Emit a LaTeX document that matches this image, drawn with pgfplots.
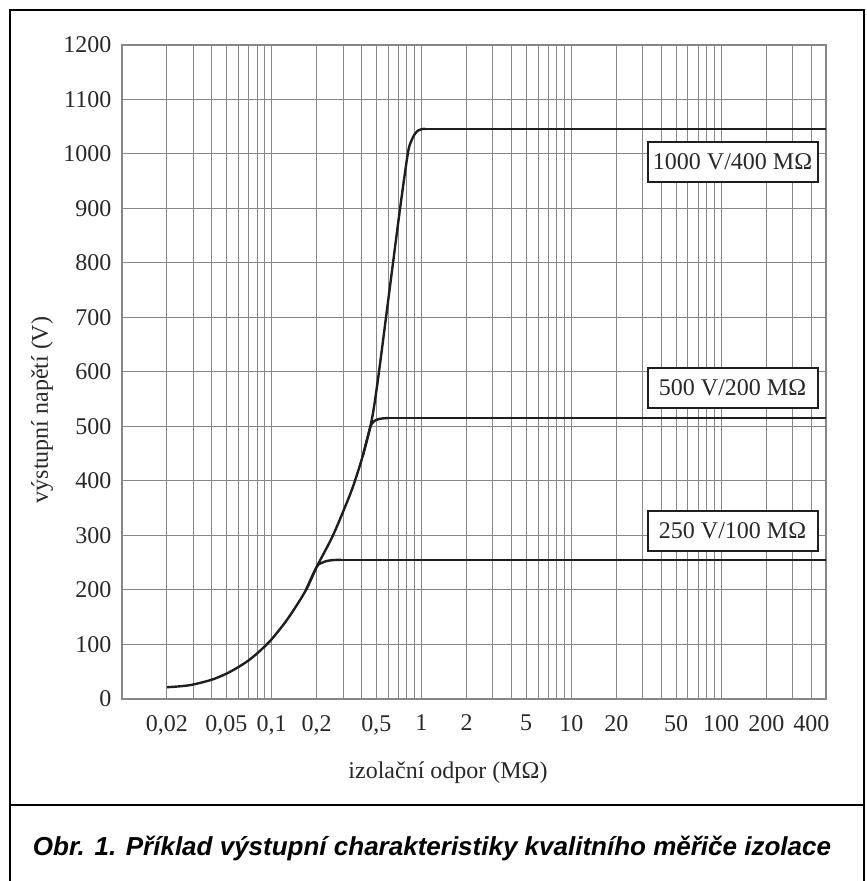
\documentclass[border=0pt]{standalone}
\usepackage{fontspec}
\setmainfont{Liberation Serif}
\newfontfamily\capfont{Liberation Sans}
\usepackage{pgfplots}
\pgfplotsset{compat=1.18}
\definecolor{gridgray}{RGB}{135,135,135}
\definecolor{curve}{RGB}{30,30,30}
\definecolor{txt}{RGB}{40,40,40}
\begin{document}
\fontsize{12}{14}\selectfont
\begin{tikzpicture}
\useasboundingbox (-60.85pt,-91.15pt) rectangle (372.15pt,349.35pt);
\begin{axis}[
  scale only axis, width=352.15pt, height=326.85pt,
  at={(0,0)}, anchor=south west,
  xmode=log, xmin=0.01, xmax=500, ymin=0, ymax=1200,
  xtick={0.02,0.05,0.1,0.2,0.5,1,2,5,10,20,50,100,200,400},
  xticklabels={{0,02},{0,05},{0,1},{0,2},{0,5},1,2,5,10,20,50,100,200,400},
  minor xtick={0.02,0.03,0.04,0.05,0.06,0.07,0.08,0.09,0.1,0.2,0.3,0.4,0.5,0.6,0.7,0.8,0.9,1,2,3,4,5,6,7,8,9,10,20,30,40,50,60,70,80,90,100,200,300,400},
  ytick={0,100,...,1200},
  grid=both,
  major grid style={gridgray, line width=0.5pt},
  minor grid style={gridgray, line width=0.5pt},
  axis line style={gridgray, line width=0.9pt},
  major tick length=0pt, minor tick length=0pt,
  /pgf/number format/assume math mode=true,
  /pgf/number format/1000 sep={},
  ticklabel style={text=txt},
  xticklabel style={yshift=-4pt},
  yticklabel style={xshift=-1pt},
]
% rising characteristic and 1000 V knee
\addplot[curve, line width=1.2pt, smooth, tension=0.5] coordinates {
(0.02,21)(0.025,23)(0.03,26)(0.04,35)(0.05,46)(0.06,58)(0.07,70)(0.08,83)(0.09,96)(0.1,109)(0.12,136)(0.139,161)(0.17,200)(0.2,242)(0.257,300)(0.333,374)(0.37,410)(0.408,448)(0.452,495)(0.48,532)(0.519,597)(0.58,700)(0.646,800)(0.72,900)(0.81,1000)(0.85,1022)(0.9,1036)(0.95,1043)(1.0,1045.5)(1.06,1046)
};
\addplot[curve, line width=1.2pt] coordinates {(1.06,1046)(500,1046)};
% 250 V knee
\addplot[curve, line width=1.2pt, smooth, tension=0.5] coordinates {
(0.17,200)(0.2,242)(0.215,249)(0.235,253)(0.26,254.5)(0.29,255)
};
\addplot[curve, line width=1.2pt] coordinates {(0.29,255)(500,255)};
% 500 V knee
\addplot[curve, line width=1.2pt, smooth, tension=0.5] coordinates {
(0.408,448)(0.452,495)(0.47,506)(0.5,512)(0.55,514.5)(0.6,515)
};
\addplot[curve, line width=1.2pt] coordinates {(0.6,515)(500,515)};
\node[draw=curve, line width=1pt, fill=white, minimum width=85pt, minimum height=20pt, inner sep=0pt, text=txt] at (axis cs:119,985) {1000 V/400 MΩ};
\node[draw=curve, line width=1pt, fill=white, minimum width=85pt, minimum height=20pt, inner sep=0pt, text=txt] at (axis cs:119,570) {500 V/200 MΩ};
\node[draw=curve, line width=1pt, fill=white, minimum width=85pt, minimum height=20pt, inner sep=0pt, text=txt] at (axis cs:119,308) {250 V/100 MΩ};
\end{axis}
\node[rotate=90, text=txt] at (-39.85pt,144.35pt) {výstupní napětí (V)};
\node[text=txt] at (163.15pt,-37.15pt) {izolační odpor (MΩ)};
\draw[line width=1pt] (-55.85pt,-95pt) -- (-55.85pt,344.35pt) -- (371.15pt,344.35pt) -- (371.15pt,-95pt);
\draw[line width=1pt] (-55.85pt,-53.15pt) -- (371.15pt,-53.15pt);
\node[font=\capfont\bfseries\itshape\fontsize{13}{15}\selectfont] at (155.15pt,-74.65pt) {Obr. 1. Příklad výstupní charakteristiky kvalitního měřiče izolace};
\end{tikzpicture}
\end{document}
